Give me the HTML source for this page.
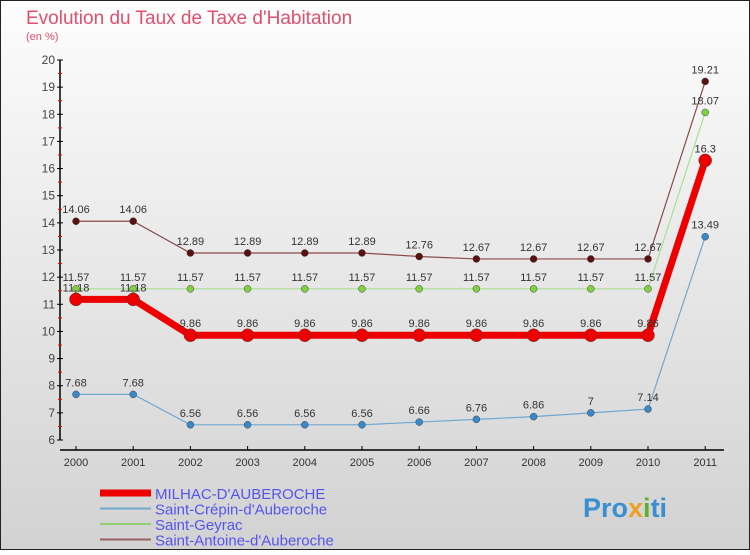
<!DOCTYPE html>
<html><head><meta charset="utf-8"><style>
body{margin:0}
svg text{font-family:"Liberation Sans",sans-serif}
</style></head><body>
<svg id="c" width="750" height="550" xmlns="http://www.w3.org/2000/svg">
<defs><linearGradient id="bg" x1="0" y1="0" x2="0" y2="1"><stop offset="0" stop-color="#fdfdfd"/><stop offset="1" stop-color="#d2d2d2"/></linearGradient></defs>
<rect x="0.5" y="0.5" width="749" height="549" fill="url(#bg)" stroke="#222"/>
<text x="26" y="24" font-size="19" fill="#e0506e">Evolution du Taux de Taxe d'Habitation</text>
<text x="26" y="40" font-size="11" fill="#e0506e">(en %)</text>
<g id="axes"></g><g id="series"></g><g id="legend"></g>
<text x="583" y="517" font-size="27" font-weight="bold" fill="#3a8fd0">Pro<tspan fill="#f0a020">x</tspan><tspan fill="#60b030">i</tspan>ti</text>
</svg>
<script>
const years=[2000,2001,2002,2003,2004,2005,2006,2007,2008,2009,2010,2011];
const yTicks=[6,7,8,9,10,11,12,13,14,15,16,17,18,19,20];
const milhac=[11.18,11.18,9.86,9.86,9.86,9.86,9.86,9.86,9.86,9.86,9.86,16.3];
const crepin=[7.68,7.68,6.56,6.56,6.56,6.56,6.66,6.76,6.86,7,7.14,13.49];
const geyrac=[11.57,11.57,11.57,11.57,11.57,11.57,11.57,11.57,11.57,11.57,11.57,18.07];
const antoine=[14.06,14.06,12.89,12.89,12.89,12.89,12.76,12.67,12.67,12.67,12.67,19.21];
const names=["MILHAC-D'AUBEROCHE","Saint-Crépin-d'Auberoche","Saint-Geyrac","Saint-Antoine-d'Auberoche"];
const NS="http://www.w3.org/2000/svg";
const X=i=>76+i*57.2, Y=v=>440-(v-6)*(380/14);
function mk(p,t,a){const e=document.createElementNS(NS,t);for(const k in a)e.setAttribute(k,a[k]);p.appendChild(e);return e;}
const ax=document.getElementById('axes');
let e=mk(ax,'line',{x1:60,y1:60,x2:60,y2:440,stroke:'#000','stroke-width':1.5});


e=mk(ax,'line',{x1:60,y1:450,x2:724,y2:450,stroke:'#000','stroke-width':1.5});


yTicks.forEach(v=>{
 mk(ax,'line',{x1:57,x2:63,y1:Y(v),y2:Y(v),stroke:'#000'});
 if(v<20) mk(ax,'line',{x1:58,x2:62,y1:Y(v+0.5),y2:Y(v+0.5),stroke:'#e00'});
 const t=mk(ax,'text',{x:55,y:Y(v)+4,'text-anchor':'end','font-size':12,fill:'#444'});t.textContent=v;
 
 
});
years.forEach((y,i)=>{
 mk(ax,'line',{x1:X(i),x2:X(i),y1:446,y2:450,stroke:'#000'});
 const t=mk(ax,'text',{x:X(i),y:466,'text-anchor':'middle','font-size':11,fill:'#333'});t.textContent=y;
 
 
});
const S=document.getElementById('series');
function draw(data,color,dot,w,r,name,lbl){
 const g=mk(S,'g',{});
 
 
 mk(g,'polyline',{points:data.map((v,i)=>X(i)+','+Y(v)).join(' '),fill:'none',stroke:color,'stroke-width':w});
 data.forEach((v,i)=>{
  const c=mk(g,'circle',{cx:X(i),cy:Y(v),r:r,fill:dot,stroke:'#444','stroke-width':0.5});
  
  
  if(lbl){const t=mk(g,'text',{x:X(i),y:Y(v)-8,'text-anchor':'middle','font-size':11,fill:'#333'});t.textContent=v;}
 });
}
draw(antoine,'#8b4a4a','#5a1010',1.2,3.5,'series-saint-antoine',true);
draw(geyrac,'#a8e090','#80d040',1.2,3.5,'series-saint-geyrac',true);
draw(crepin,'#70a8d0','#3a88c8',1.2,3.5,'series-saint-crepin',true);
draw(milhac,'#ee0000','#ee0000',7,6.5,'series-milhac',true);
const L=document.getElementById('legend');
const lc=['#ee0000','#70a8d0','#90d070','#9a6060'],lw=[7,2,2,2];
names.forEach((n,i)=>{
 const y=493+i*15.5;
 const g=mk(L,'g',{});
 
 
 mk(g,'line',{x1:100,x2:151,y1:y,y2:y,stroke:lc[i],'stroke-width':lw[i]});
 const t=mk(g,'text',{x:155,y:y+6,'font-size':15,fill:'#5555ee'});t.textContent=n;
});
</script>
</body></html>
